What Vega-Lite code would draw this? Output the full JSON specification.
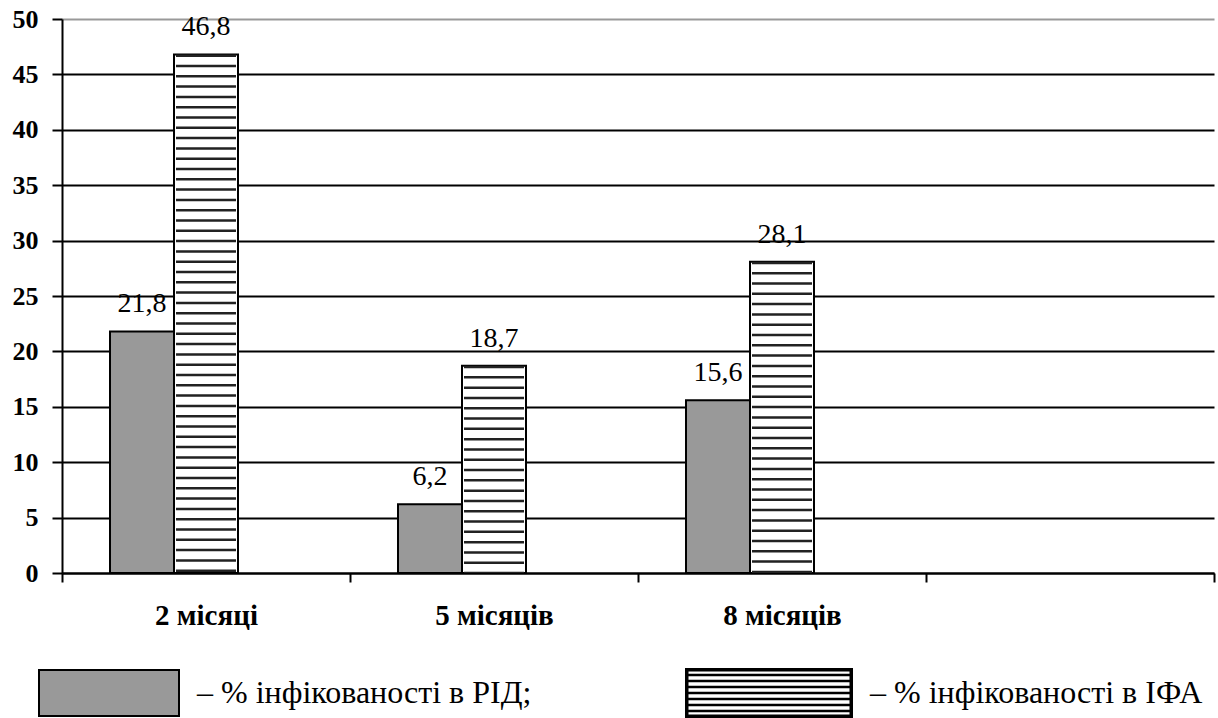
{
  "$schema": "https://vega.github.io/schema/vega-lite/v6.json",
  "width": 1152,
  "height": 554,
  "autosize": {"type": "none"},
  "padding": {"left": 62, "top": 19, "right": 4, "bottom": 145},
  "background": "white",
  "config": {
    "view": {"stroke": null},
    "font": "Times New Roman, Liberation Serif, serif",
    "locale": {"number": {"decimal": ",", "thousands": " ", "grouping": [3], "currency": ["", " грн"]}}
  },
  "resolve": {"scale": {"x": "independent", "y": "independent"}},
  "layer": [
    {
      "data": {
        "values": [
          {"period": "2 місяці", "series": "РІД", "value": 21.8},
          {"period": "2 місяці", "series": "ІФА", "value": 46.8},
          {"period": "5 місяців", "series": "РІД", "value": 6.2},
          {"period": "5 місяців", "series": "ІФА", "value": 18.7},
          {"period": "8 місяців", "series": "РІД", "value": 15.6},
          {"period": "8 місяців", "series": "ІФА", "value": 28.1}
        ]
      },
      "layer": [
        {
          "mark": {"type": "bar", "stroke": "black", "strokeWidth": 2},
          "encoding": {
            "x": {
              "field": "period", "type": "nominal", "sort": null,
              "scale": {"domain": ["2 місяці", "5 місяців", "8 місяців", " "], "paddingInner": 0, "paddingOuter": 0},
              "axis": {
                "title": null, "tickBand": "extent", "labelAngle": 0,
                "domainColor": "black", "domainWidth": 2, "tickColor": "black", "tickWidth": 2, "tickSize": 9,
                "labelFont": "Times New Roman, Liberation Serif, serif", "labelFontSize": 29, "labelFontWeight": "bold", "labelColor": "black", "labelPadding": 19
              }
            },
            "xOffset": {
              "field": "series", "type": "nominal",
              "scale": {"domain": ["РІД", "ІФА", "—"], "paddingInner": 0, "paddingOuter": 0.75}
            },
            "y": {
              "field": "value", "type": "quantitative",
              "scale": {"domain": [0, 50], "nice": false},
              "axis": {
                "title": null, "values": [0, 5, 10, 15, 20, 25, 30, 35, 40, 45, 50],
                "grid": true, "gridColor": {"condition": {"test": "datum.value === 50", "value": "#999999"}, "value": "black"}, "gridWidth": 2,
                "domainColor": "black", "domainWidth": 2, "tickColor": "black", "tickWidth": 2, "tickSize": 10,
                "labelFont": "Times New Roman, Liberation Serif, serif", "labelFontSize": 26, "labelFontWeight": "bold", "labelColor": "black", "labelPadding": 14
              }
            },
            "fill": {
              "field": "series", "type": "nominal",
              "scale": {"domain": ["РІД", "ІФА"], "range": ["#999999", "#ffffff"]},
              "legend": null
            }
          }
        },
        {
          "transform": [{"filter": "datum.series === 'ІФА'"}],
          "mark": {"type": "rule", "strokeWidth": 60, "strokeDash": [2.5, 7.8], "color": "#222222", "strokeCap": "butt"},
          "encoding": {
            "x": {"field": "period", "type": "nominal"},
            "xOffset": {"field": "series", "type": "nominal"},
            "y": {"field": "value", "type": "quantitative"},
            "y2": {"datum": 0}
          }
        },
        {
          "mark": {"type": "text", "font": "Times New Roman, Liberation Serif, serif", "fontSize": 28, "dy": -19, "baseline": "alphabetic", "color": "black"},
          "encoding": {
            "x": {"field": "period", "type": "nominal"},
            "xOffset": {"field": "series", "type": "nominal"},
            "y": {"field": "value", "type": "quantitative"},
            "text": {"field": "value", "type": "quantitative", "format": ".1f"}
          }
        }
      ]
    },
    {
      "data": {
        "values": [
          {"series": "РІД", "label": "– % інфікованості в РІД;"},
          {"series": "ІФА", "label": "– % інфікованості в ІФА"}
        ]
      },
      "encoding": {
        "x": {"field": "series", "type": "nominal", "scale": {"type": "point", "domain": ["РІД", "ІФА"], "range": [118, 791], "padding": 0}, "axis": null},
        "y": {"datum": "legend", "type": "nominal", "scale": {"type": "point", "domain": ["legend"], "range": [674, 674]}, "axis": null}
      },
      "layer": [
        {
          "mark": {"type": "point", "filled": true, "size": 400, "stroke": "black", "strokeWidth": 2, "opacity": 1},
          "encoding": {
            "shape": {
              "condition": {"test": "datum.series === 'ІФА'", "value": "M-16.7,-2.4H-0.1V-2.25H-16.7Z M-16.7,2.25H-0.1V2.4H-16.7Z M-16.7,-2.4H-16.55V2.4H-16.7Z M-0.25,-2.4H-0.1V2.4H-0.25Z M-16.7,-1.825H-0.1V-1.775H-16.7Z M-16.7,-1.225H-0.1V-1.175H-16.7Z M-16.7,-0.625H-0.1V-0.575H-16.7Z M-16.7,-0.025H-0.1V0.025H-16.7Z M-16.7,0.575H-0.1V0.625H-16.7Z M-16.7,1.175H-0.1V1.225H-16.7Z M-16.7,1.775H-0.1V1.825H-16.7Z"},
              "value": "M-14.1,-2.3H-0.1V2.3H-14.1Z"
            },
            "fill": {"condition": {"test": "datum.series === 'ІФА'", "value": "black"}, "value": "#999999"}
          }
        },
        {
          "mark": {"type": "text", "align": "left", "baseline": "middle", "dx": 17, "font": "Times New Roman, Liberation Serif, serif", "fontSize": 32, "color": "black"},
          "encoding": {"text": {"field": "label", "type": "nominal"}}
        }
      ]
    }
  ]
}
